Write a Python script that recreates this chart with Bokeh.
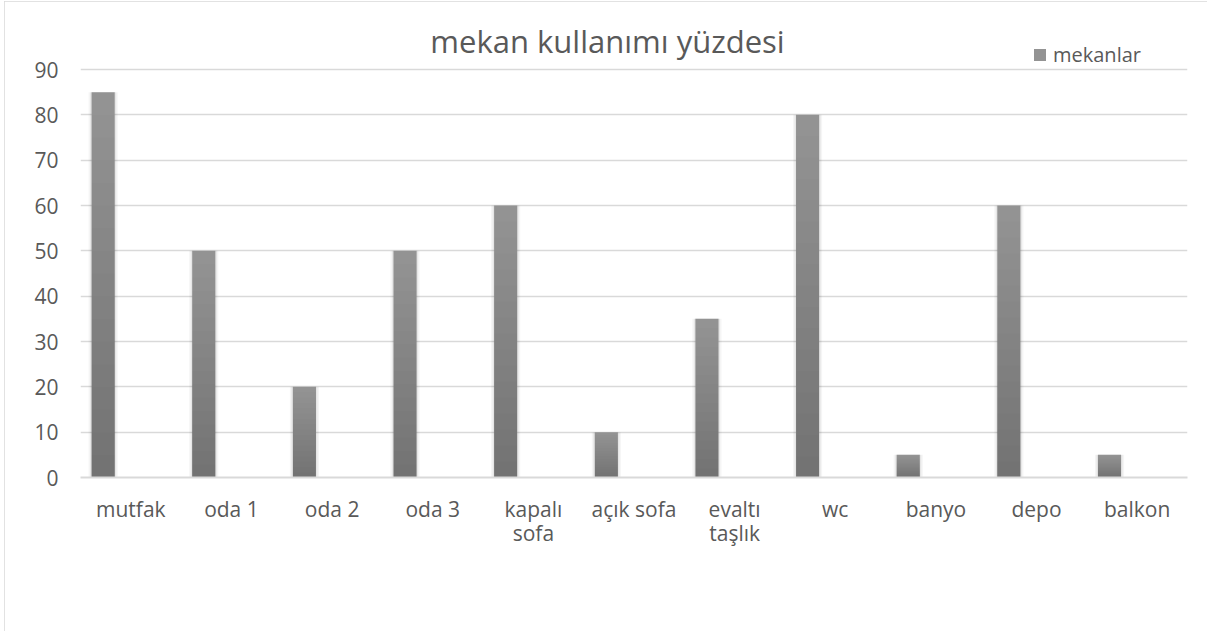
from bokeh.plotting import figure
from bokeh.models import ColumnDataSource, FactorRange, Range1d, FixedTicker, Label, Legend, LegendItem
from bokeh.transform import dodge
from bokeh.embed import file_html
from bokeh.resources import INLINE

# ---- data ----
categories = ["mutfak", "oda 1", "oda 2", "oda 3", "kapalı\nsofa", "açık sofa",
              "evaltı\ntaşlık", "wc", "banyo", "depo", "balkon"]
mekanlar = [85, 50, 20, 50, 60, 10, 35, 80, 5, 60, 5]
y_ticks = [0, 10, 20, 30, 40, 50, 60, 70, 80, 90]
title_text = "mekan kullanımı yüzdesi"
series_name = "mekanlar"

FONT = "Open Sans"
TXT = "#595959"
GRID = "#d9d9d9"

src = ColumnDataSource(data=dict(cat=categories, val=mekanlar))

p = figure(width=1203, height=630,
           x_range=FactorRange(*categories, range_padding=0),
           y_range=Range1d(0, 103.46),
           output_backend="svg", toolbar_location=None,
           min_border_left=76, min_border_right=20,
           min_border_top=7, min_border_bottom=154)
p.styles = {"outline": "1px solid #d9d9d9", "outline-offset": "-1px",
            "margin-left": "4px", "margin-top": "1px"}
p.outline_line_color = None
p.background_fill_color = "white"
p.border_fill_color = "white"

xpos = dodge('cat', -0.275, range=p.x_range)

# soft shadow
p.vbar(x=xpos, top='val', width=0.29, source=src,
       fill_color="#000000", fill_alpha=0.04, line_color=None)
p.vbar(x=xpos, top='val', width=0.26, source=src,
       fill_color="#000000", fill_alpha=0.06, line_color=None)
# bar base (top colour of the gradient)
r = p.vbar(x=xpos, top='val', width=0.23, source=src,
           fill_color="#939393", line_color=None)
# darkening towards the bottom: overlays of decreasing height within each bar
N = 16
for k in range(1, N + 1):
    f = k / (N + 1)
    layer = ColumnDataSource(data=dict(cat=categories, val=[v * (1 - f) for v in mekanlar]))
    p.vbar(x=xpos, top='val', width=0.23, source=layer,
           fill_color="#000000", fill_alpha=0.0127, line_color=None)

# grid
p.xgrid.visible = False
p.ygrid.ticker = FixedTicker(ticks=y_ticks)
p.ygrid.grid_line_color = GRID
p.ygrid.grid_line_width = 1.5
p.ygrid.level = "underlay"

# y axis
p.yaxis.ticker = FixedTicker(ticks=y_ticks)
p.yaxis.axis_line_color = None
p.yaxis.major_tick_line_color = None
p.yaxis.minor_tick_line_color = None
p.yaxis.major_tick_out = 0
p.yaxis.major_label_standoff = 22
p.yaxis.major_label_text_font = FONT
p.yaxis.major_label_text_font_size = "21px"
p.yaxis.major_label_text_color = TXT

# x axis
p.xaxis.axis_line_color = GRID
p.xaxis.axis_line_width = 2
p.xaxis.major_tick_line_color = None
p.xaxis.minor_tick_line_color = None
p.xaxis.major_tick_out = 0
p.xaxis.major_label_standoff = 17
p.xaxis.major_label_text_font = FONT
p.xaxis.major_label_text_font_size = "21px"
p.xaxis.major_label_text_color = TXT
p.xaxis.major_label_text_line_height = 0.86

# title
p.add_layout(Label(x=5.237, y=96.4, text=title_text, text_font=FONT, text_font_size="31px",
                   text_color=TXT, text_align="center", text_baseline="middle"))

# legend
legend = Legend(items=[LegendItem(label=series_name, renderers=[r])],
                location=(952, 409), padding=0, margin=0, spacing=0,
                glyph_width=15, glyph_height=15, label_standoff=6,
                label_text_font=FONT, label_text_font_size="20px", label_text_color=TXT,
                border_line_color=None, background_fill_alpha=0)
p.add_layout(legend)

open("out.html", "w").write(file_html(p, INLINE))
